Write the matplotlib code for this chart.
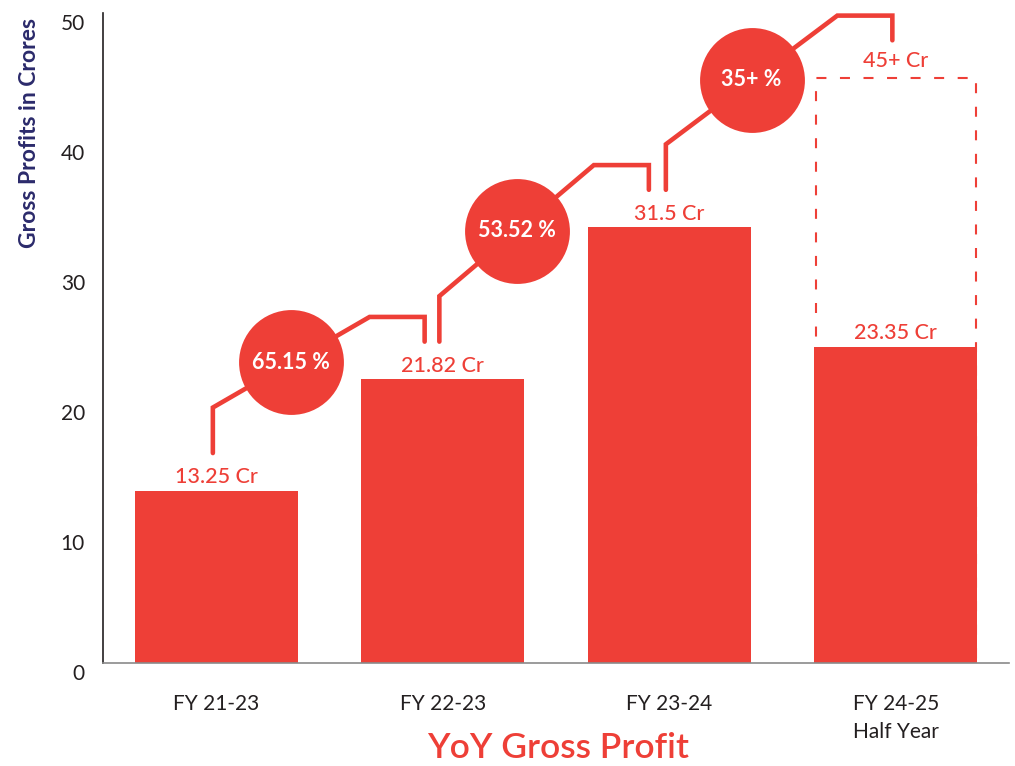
import matplotlib
matplotlib.use('Agg')
import matplotlib.pyplot as plt
import matplotlib.transforms as mtransforms

# ---------------- data ----------------
categories = ['FY 21-23', 'FY 22-23', 'FY 23-24', 'FY 24-25\nHalf Year']
bar_values = [13.25, 21.82, 33.5, 24.3]
value_labels = ['13.25 Cr', '21.82 Cr', '31.5 Cr', '23.35 Cr']
target_value = 45
target_label = '45+ Cr'
growth_labels = ['65.15 %', '53.52 %', '35+ %']
y_ticks = [0, 10, 20, 30, 40, 50]

# ---------------- style ----------------
RED = '#EE3F37'
DARK = '#231F20'
NAVY = '#2B2A6B'
FONT = 'Lato'

plt.rcParams['font.family'] = [FONT, 'DejaVu Sans']

fig = plt.figure(figsize=(10.15, 7.66), dpi=100)
ax = fig.add_axes([103 / 1015, 103 / 766, (1009 - 103) / 1015, (663 - 13) / 766])

x = list(range(len(categories)))
bar_w = 0.72

# dashed target box behind last bar (lower part hidden by the bar)
ax.bar(x[-1], target_value, width=bar_w - 0.012,
       facecolor='none', edgecolor=RED, linestyle=(0, (4.8, 6.5)), linewidth=1.5, zorder=1)
ax.bar(x, bar_values, width=bar_w, color=RED, zorder=2)

# value labels
for xi, v, lab in zip(x, bar_values, value_labels):
    ax.annotate(lab, (xi, v), xytext=(0, 5.5), textcoords='offset points',
                ha='center', va='baseline', color=RED, fontsize=15.5, fontweight='medium')
ax.annotate(target_label, (x[-1], target_value), xytext=(0, 8), textcoords='offset points',
            ha='center', va='baseline', color=RED, fontsize=15.5, fontweight='medium')

# connectors with growth circles
tops = bar_values[1:-1] + [target_value]
end_shift = [-0.08, -0.09, -0.015]
for i, g in enumerate(growth_labels):
    x0 = x[i] - 0.015
    y0 = bar_values[i] + 2.9
    y1 = y0 + 3.5
    xe = x[i + 1] + end_shift[i]
    yh = tops[i] + 4.8
    ye = tops[i] + 2.9
    xs = [x0, x0, xe - 0.243, xe, xe]
    ys = [y0, y1, yh, yh, ye]
    ax.plot(xs, ys, color=RED, lw=3.3, solid_capstyle='round',
            solid_joinstyle='miter', zorder=3, clip_on=False)
    cx = (x0 + xe - 0.243) / 2
    cy = (y1 + yh) / 2
    ax.scatter([cx], [cy], s=5700, color=RED, zorder=4, clip_on=False, linewidths=0)
    ax.text(cx, cy, g, ha='center', va='center', color='white',
            fontsize=15.5, fontweight='bold', zorder=5)

ax.set_xlim(-0.5, 3.5)
ax.set_ylim(0, 50)
ax.set_yticks(y_ticks)
ax.set_xticks(x)
ax.set_xticklabels(categories, fontsize=15, color=DARK, linespacing=1.55)
ax.tick_params(axis='both', length=0, labelsize=15, colors=DARK)
ax.tick_params(axis='x', pad=22)
ax.tick_params(axis='y', pad=13)
offset = mtransforms.ScaledTranslation(0, -9 / 100, fig.dpi_scale_trans)
for lab in ax.get_yticklabels():
    lab.set_transform(lab.get_transform() + offset)

for s in ['top', 'right']:
    ax.spines[s].set_visible(False)
ax.spines['left'].set_color(DARK)
ax.spines['left'].set_linewidth(1.2)
ax.spines['bottom'].set_color('#8A8A8A')
ax.spines['bottom'].set_linewidth(1.2)

fig.text(30 / 1015, 1 - 133 / 766, 'Gross Profits in Crores', rotation=90,
         ha='center', va='center', color=NAVY, fontsize=16.5, fontweight='bold')
fig.text(558 / 1015, 1 - 748 / 766, 'YoY Gross Profit', ha='center', va='center',
         color=RED, fontsize=25.5, fontweight='semibold')

fig.savefig('out.png', dpi=100)
